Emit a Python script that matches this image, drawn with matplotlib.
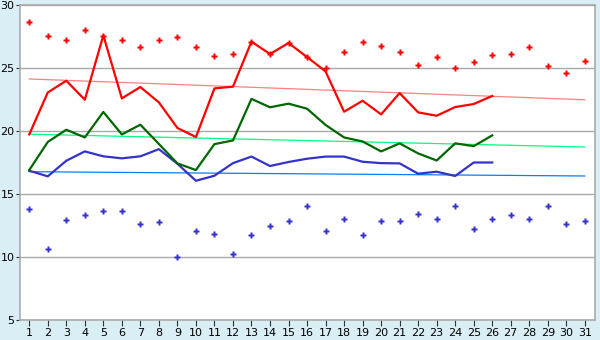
import matplotlib
matplotlib.use("Agg")
import matplotlib.pyplot as plt

days = list(range(1, 32))

# record highs / lows per day (dots)
rec_max = [28.65, 27.54, 27.22, 28.0, 27.56, 27.2, 26.67, 27.2, 27.46, 26.67,
           25.95, 26.13, 27.09, 26.11, 26.98, 25.87, 25.0, 26.27, 27.06, 26.77,
           26.27, 25.24, 25.87, 25.0, 25.48, 26.03, 26.11, 26.67, 25.16, 24.6, 25.56]
rec_min = [13.79, 10.62, 12.94, 13.33, 13.65, 13.65, 12.62, 12.78, 10.0, 12.06,
           11.83, 10.24, 11.75, 12.46, 12.86, 14.05, 12.06, 13.02, 11.75, 12.86,
           12.86, 13.41, 13.02, 14.05, 12.22, 13.02, 13.33, 13.02, 14.05, 12.62, 12.86]

# this month so far (days 1-26)
cur_days = list(range(1, 27))
cur_max = [19.73, 23.06, 23.99, 22.48, 27.59, 22.59, 23.49, 22.27, 20.24, 19.52,
           23.38, 23.52, 27.09, 26.11, 26.98, 25.87, 24.73, 21.53, 22.40, 21.32,
           23.01, 21.48, 21.21, 21.90, 22.14, 22.78]
cur_mean = [16.9, 19.13, 20.1, 19.49, 21.51, 19.73, 20.5, 18.97, 17.43, 16.9,
            18.96, 19.25, 22.55, 21.88, 22.17, 21.77, 20.48, 19.49, 19.17, 18.38,
            19.02, 18.22, 17.66, 19.02, 18.8, 19.65]
cur_min = [16.85, 16.4, 17.64, 18.38, 17.99, 17.83, 17.99, 18.56, 17.4, 16.05,
           16.45, 17.45, 17.97, 17.22, 17.54, 17.8, 17.97, 17.97, 17.56, 17.45,
           17.43, 16.61, 16.77, 16.43, 17.5, 17.5]

# normals, start and end of month
norm_days = [1, 31]
norm_max = [24.13, 22.48]
norm_mean = [19.75, 18.73]
norm_min = [16.77, 16.43]

fig = plt.figure(figsize=(6, 3.4), dpi=100, facecolor="#daeef5")
ax = fig.add_axes([20 / 600, 20 / 340, 575 / 600, 315 / 340])
ax.set_facecolor("white")

ax.plot(norm_days, norm_max, color="#ff8080", lw=0.9)
ax.plot(norm_days, norm_mean, color="#00ff80", lw=0.9)
ax.plot(norm_days, norm_min, color="#0080ff", lw=0.9)

ax.plot(cur_days, cur_min, color="#3333cc", lw=1.6)
ax.plot(cur_days, cur_mean, color="#006600", lw=1.6)
ax.plot(cur_days, cur_max, color="#ff0000", lw=1.6)

ax.plot(days, rec_max, ls="none", marker="P", ms=4.2, color="#ff0000", mec="none")
ax.plot(days, rec_min, ls="none", marker="P", ms=4.2, color="#3333cc", mec="none")

ax.set_xlim(0.5, 31.55)
ax.set_ylim(5, 30)
ax.set_xticks(days)
ax.set_yticks([5, 10, 15, 20, 25, 30])
ax.grid(axis="y", color="#aaaaaa", lw=1)
ax.set_axisbelow(True)
for s in ax.spines.values():
    s.set_color("#aaaaaa")
    s.set_linewidth(1.2)
ax.tick_params(axis="x", length=4, color="#333333", labelsize=8, pad=2)
ax.tick_params(axis="y", length=3, color="#333333", labelsize=8, pad=1)

fig.savefig("out.png", dpi=100, facecolor=fig.get_facecolor())
